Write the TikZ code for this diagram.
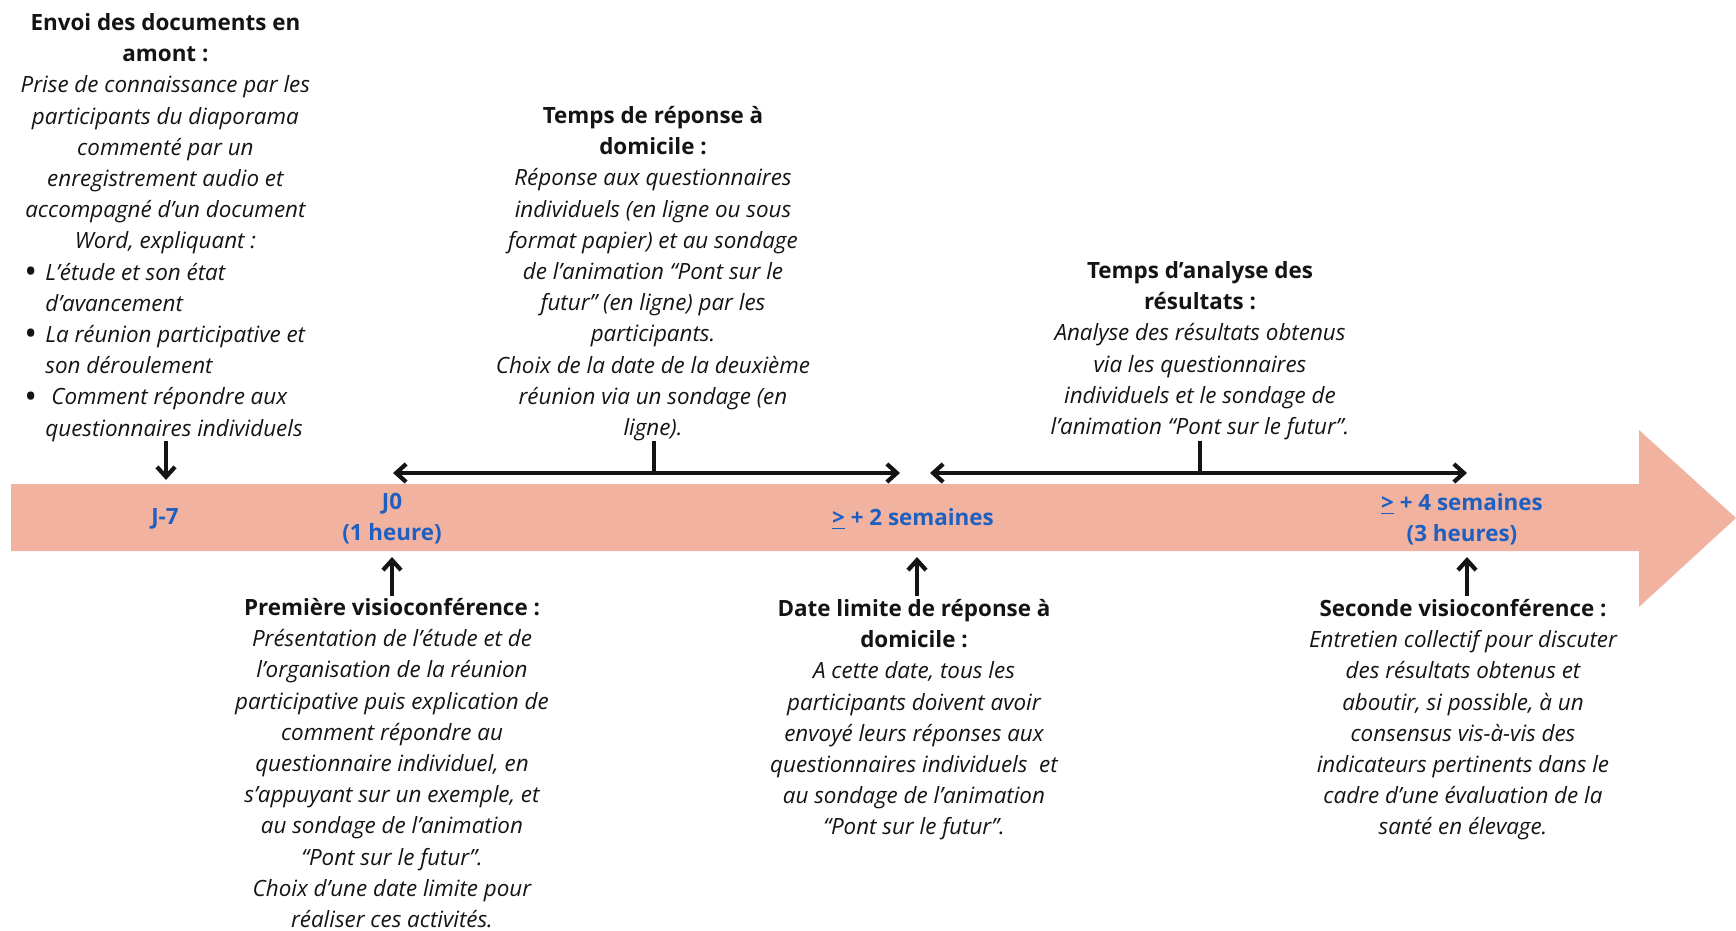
\documentclass[tikz,border=0pt]{standalone}
\usepackage{fontspec}
\setmainfont{Open Sans}
\usetikzlibrary{arrows.meta}
\definecolor{band}{HTML}{F2B2A0}
\definecolor{lbl}{HTML}{1F5FBF}
\definecolor{ink}{HTML}{141414}
\newcommand{\bigbul}{\raisebox{-1.6pt}{\upshape\fontsize{17pt}{15.6pt}\selectfont •}}
\begin{document}
\begin{tikzpicture}[x=0.5pt,y=-0.5pt,
  txt/.style={inner sep=0pt, align=center, text=ink, font=\fontsize{11.2}{15.6}\selectfont\itshape},
  lab/.style={inner sep=0pt, align=center, text=lbl, font=\fontsize{11.2}{15.6}\selectfont\bfseries},
  arr/.style={draw=ink, line width=2.1pt, -{Straight Barb[length=5pt,width=9pt]}},
  darr/.style={draw=ink, line width=2.1pt, {Straight Barb[length=5pt,width=9pt]}-{Straight Barb[length=5pt,width=9pt]}},
  tick/.style={draw=ink, line width=2.1pt}]
\useasboundingbox (0,0) rectangle (1736,931);
% band arrow
\fill[band] (11,484) -- (1639,484) -- (1639,430) -- (1736,518) -- (1639,607) -- (1639,551) -- (11,551) -- cycle;
% band labels
\node[lab] (j7) at (165,519) {J-7};
\node[lab] (j0) at (392,519) {J0\\(1 heure)};
\node[lab] (s2) at (913,519) {\underline{>} + 2 semaines};
\node[lab] (s4) at (1462,519) {\underline{>} + 4 semaines\\(3 heures)};
% top text blocks
\node[txt, align=left, anchor=north west] (envoi) at (24,13) {%
\makebox[141pt][c]{\upshape\bfseries Envoi des documents en}\\
\makebox[141pt][c]{\upshape\bfseries amont :}\\
\makebox[141pt][c]{Prise de connaissance par les}\\
\makebox[141pt][c]{participants du diaporama}\\
\makebox[141pt][c]{commenté par un}\\
\makebox[141pt][c]{enregistrement audio et}\\
\makebox[141pt][c]{accompagné d’un document}\\
\makebox[141pt][c]{Word, expliquant :}\\
\makebox[10.5pt][l]{\bigbul}L’étude et son état\\
\hspace*{10.5pt}d’avancement\\
\makebox[10.5pt][l]{\bigbul}La réunion participative et\\
\hspace*{10.5pt}son déroulement\\
\makebox[10.5pt][l]{\bigbul}\hspace*{3pt}Comment répondre aux\\
\hspace*{10.5pt}questionnaires individuels};
\node[txt, anchor=north] (rep) at (653,106) {%
{\upshape\bfseries Temps de réponse à}\\
{\upshape\bfseries domicile :}\\
Réponse aux questionnaires\\
individuels (en ligne ou sous\\
format papier) et au sondage\\
de l’animation “Pont sur le\\
futur” (en ligne) par les\\
participants.\\
Choix de la date de la deuxième\\
réunion via un sondage (en\\
ligne).};
\node[txt, anchor=north] (ana) at (1200,261) {%
{\upshape\bfseries Temps d’analyse des}\\
{\upshape\bfseries résultats :}\\
Analyse des résultats obtenus\\
via les questionnaires\\
individuels et le sondage de\\
l’animation “Pont sur le futur”.};
% bottom text blocks
\node[txt, anchor=north] (prem) at (392,598) {%
{\upshape\bfseries Première visioconférence :}\\
Présentation de l’étude et de\\
l’organisation de la réunion\\
participative puis explication de\\
comment répondre au\\
questionnaire individuel, en\\
s’appuyant sur un exemple, et\\
au sondage de l’animation\\
“Pont sur le futur”.\\
Choix d’une date limite pour\\
réaliser ces activités.};
\node[txt, anchor=north] (lim) at (914,599) {%
{\upshape\bfseries Date limite de réponse à}\\
{\upshape\bfseries domicile :}\\
A cette date, tous les\\
participants doivent avoir\\
envoyé leurs réponses aux\\
questionnaires individuels~ et\\
au sondage de l’animation\\
“Pont sur le futur”.};
\node[txt, anchor=north] (sec) at (1463,599) {%
{\upshape\bfseries Seconde visioconférence :}\\
Entretien collectif pour discuter\\
des résultats obtenus et\\
aboutir, si possible, à un\\
consensus vis-à-vis des\\
indicateurs pertinents dans le\\
cadre d’une évaluation de la\\
santé en élevage.};
% connectors
\coordinate (a1) at (166,441); \coordinate (a1e) at (166,480);
\draw[arr] (a1) -- (a1e);
\coordinate (d1l) at (393,473); \coordinate (d1r) at (900,473);
\draw[darr] (d1l) -- (d1r);
\coordinate (t1) at (654,441); \coordinate (t1e) at (654,473);
\draw[tick] (t1) -- (t1e);
\coordinate (d2l) at (930,473); \coordinate (d2r) at (1467,473);
\draw[darr] (d2l) -- (d2r);
\coordinate (t2) at (1200,441); \coordinate (t2e) at (1200,473);
\draw[tick] (t2) -- (t2e);
\coordinate (b1) at (392,596); \coordinate (b1e) at (392,557);
\draw[arr] (b1) -- (b1e);
\coordinate (b2) at (917,596); \coordinate (b2e) at (917,557);
\draw[arr] (b2) -- (b2e);
\coordinate (b3) at (1467,596); \coordinate (b3e) at (1467,557);
\draw[arr] (b3) -- (b3e);
\end{tikzpicture}
\end{document}
